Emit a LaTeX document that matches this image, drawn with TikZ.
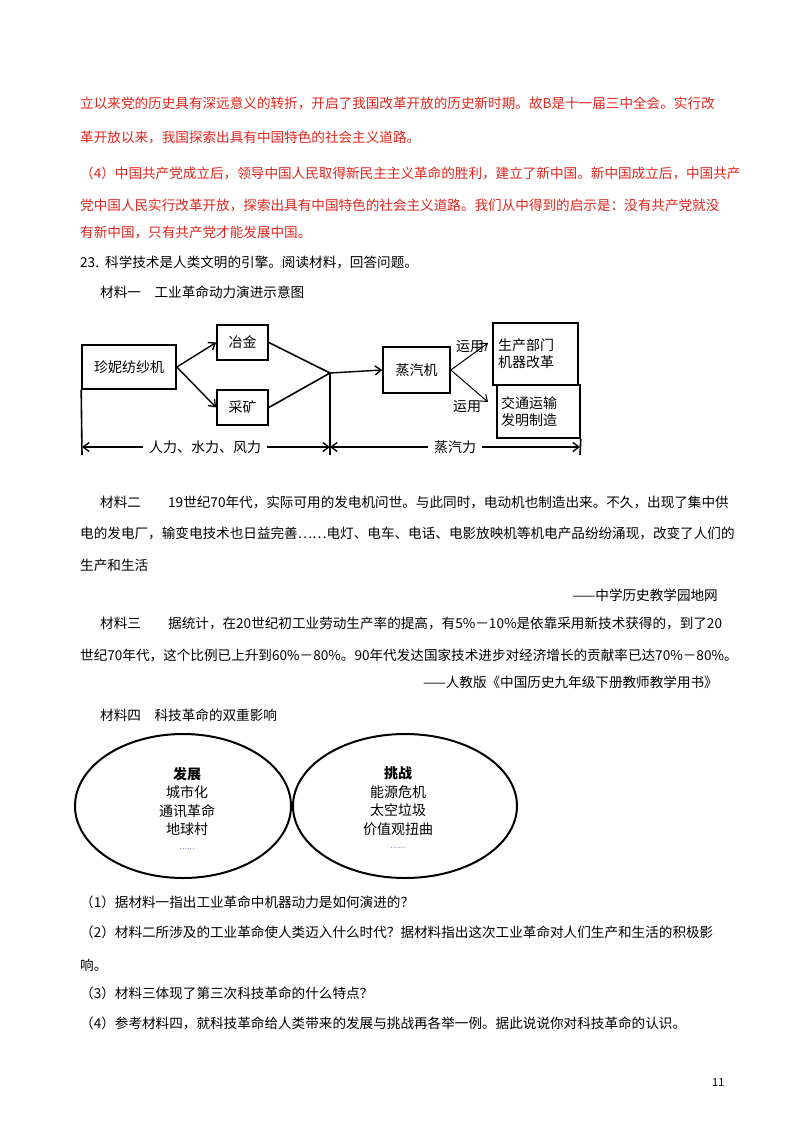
\documentclass[tikz,border=0pt]{standalone}
\usepackage{fontspec}
\setmainfont{Noto Sans CJK SC}
\usetikzlibrary{arrows.meta}
\definecolor{ansred}{HTML}{E0261E}
\begin{document}
\begin{tikzpicture}[x=1pt,y=-1pt,
  ln/.style={anchor=west,inner sep=0,font=\fontsize{13.6}{14}\selectfont},
  rl/.style={ln,text=ansred},
  rt/.style={anchor=east,inner sep=0,font=\fontsize{13.6}{14}\selectfont},
  bx/.style={draw,line width=1.6pt,inner sep=0,font=\fontsize{14}{17}\selectfont,align=left},
  ar/.style={-{Straight Barb[length=6pt,width=9pt]},line width=1.4pt},
  ln2/.style={line width=1.6pt},
  lb/.style={inner sep=0,font=\fontsize{14}{16}\selectfont},
  et/.style={inner sep=0,font=\fontsize{14}{18.5}\selectfont,align=center}]
\path[fill=white] (0,0) rectangle (800,1132);
\node[rl] (r1) at (80,103) {立以来党的历史具有深远意义的转折，开启了我国改革开放的历史新时期。故B是十一届三中全会。实行改};
\node[rl] (r2) at (80,137) {革开放以来，我国探索出具有中国特色的社会主义道路。};
\node[rl] (r3) at (80,173) {（4）中国共产党成立后，领导中国人民取得新民主主义革命的胜利，建立了新中国。新中国成立后，中国共产};
\node[rl] (r4) at (80,205) {党中国人民实行改革开放，探索出具有中国特色的社会主义道路。我们从中得到的启示是：没有共产党就没};
\node[rl] (r5) at (80,232) {有新中国，只有共产党才能发展中国。};
\node[ln] (q) at (80,262) {23.\ \ 科学技术是人类文明的引擎。阅读材料，回答问题。};
\node[ln] (m1) at (100,292) {材料一\quad 工业革命动力演进示意图};
% diagram
\node[bx,minimum width=94pt,minimum height=44pt] (jn) at (129,367) {珍妮纺纱机};
\node[bx,minimum width=51pt,minimum height=35pt] (yj) at (242.5,342.5) {冶金};
\node[bx,minimum width=51pt,minimum height=35pt] (ck) at (242.5,407.5) {采矿};
\coordinate (cv) at (330,373);
\node[bx,minimum width=67pt,minimum height=46pt] (zq) at (416.5,370) {蒸汽机};
\node[bx,minimum width=85pt,minimum height=62pt,text width=75pt] (sc) at (535.5,354) {生产部门\\机器改革};
\node[bx,minimum width=83pt,minimum height=53pt,text width=75pt] (jt) at (538.5,411.5) {交通运输\\发明制造};
\draw[ar] (jn.east) -- (yj.west);
\draw[ar] (jn.east) -- (ck.west);
\draw[ln2] (yj.east) -- (cv);
\draw[ln2] (ck.east) -- (cv);
\draw[ar] (cv) -- (zq.west);
\draw[ar,line width=1pt] (zq.east) -- (488,343);
\draw[ar,line width=1pt] (zq.east) -- (488,402);
\node[lb] (y1) at (470,347) {运用};
\node[lb] (y2) at (467,407) {运用};
\coordinate (bl) at (82,447);
\coordinate (bm) at (330,447);
\coordinate (br) at (580,447);
\draw[ln2] (jn.south west) -- (82,455);
\draw[ln2] (cv) -- (330,455);
\draw[ln2] (jt.south east) -- (580,455);
\node[lb,fill=white,inner xsep=6pt] (l1) at (205,447) {人力、水力、风力};
\node[lb,fill=white,inner xsep=6pt] (l2) at (455,447) {蒸汽力};
\draw[ar] (l1.west) -- (bl);
\draw[ar] (l1.east) -- (bm);
\draw[ar] (l2.west) -- (bm);
\draw[ar] (l2.east) -- (br);
% material 2
\node[ln] (a1) at (100,502) {材料二\quad\quad 19世纪70年代，实际可用的发电机问世。与此同时，电动机也制造出来。不久，出现了集中供};
\node[ln] (a2) at (80,533) {电的发电厂，输变电技术也日益完善……电灯、电车、电话、电影放映机等机电产品纷纷涌现，改变了人们的};
\node[ln] (a3) at (80,565) {生产和生活};
\node[rt] (a4) at (718,595) {——中学历史教学园地网};
\node[ln] (b1) at (100,623) {材料三\quad\quad 据统计，在20世纪初工业劳动生产率的提高，有5\%－10\%是依靠采用新技术获得的，到了20};
\node[ln] (b2) at (80,655) {世纪70年代，这个比例已上升到60\%－80\%。90年代发达国家技术进步对经济增长的贡献率已达70\%－80\%。};
\node[rt] (b3) at (718,682) {——人教版《中国历史九年级下册教师教学用书》};
\node[ln] (c1) at (100,715) {材料四\quad 科技革命的双重影响};
\draw[line width=2pt] (183,806) ellipse [x radius=108, y radius=72];
\draw[line width=2pt] (405,806) ellipse [x radius=112, y radius=72];
\node[et] (e1) at (187,808) {\textbf{发展}\\城市化\\通讯革命\\地球村\\[-4pt]{\color{blue!60!black}\scriptsize ……}};
\node[et] (e2) at (398,808) {\textbf{挑战}\\能源危机\\太空垃圾\\价值观扭曲\\[-4pt]{\color{blue!60!black}\scriptsize ……}};
\node[ln] (d1) at (80,902) {（1）据材料一指出工业革命中机器动力是如何演进的？};
\node[ln] (d2) at (80,932) {（2）材料二所涉及的工业革命使人类迈入什么时代？据材料指出这次工业革命对人们生产和生活的积极影};
\node[ln] (d3) at (80,965) {响。};
\node[ln] (d4) at (80,993) {（3）材料三体现了第三次科技革命的什么特点？};
\node[ln] (d5) at (80,1023) {（4）参考材料四，就科技革命给人类带来的发展与挑战再各举一例。据此说说你对科技革命的认识。};
\node[ln,font=\fontsize{11}{12}\selectfont] (pg) at (712,1083) {11};
\end{tikzpicture}
\end{document}
